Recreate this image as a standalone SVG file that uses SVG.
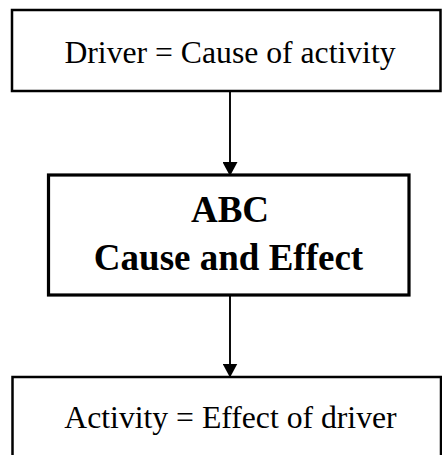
<svg xmlns="http://www.w3.org/2000/svg" width="442" height="455" viewBox="0 0 442 455">
  <style>
    .box { fill: #ffffff; stroke: #000000; }
    .thin { stroke-width: 2.5; }
    .thick { stroke-width: 3.2; }
    .label { font-family: "Liberation Serif", "Times New Roman", serif; fill: #000000; text-anchor: middle; }
    .plain { font-size: 31.7px; }
    .bold { font-size: 37px; font-weight: bold; }
    .link { stroke: #000000; stroke-width: 1.9; fill: none; }
  </style>
  <defs>
    <marker id="arrow" viewBox="0 0 14 15" refX="14" refY="7.5" markerWidth="14" markerHeight="15" markerUnits="userSpaceOnUse" orient="auto">
      <path d="M0,0 L14,7.5 L0,15 Z" fill="#000000"/>
    </marker>
  </defs>

  <rect width="442" height="455" fill="#ffffff"/>

  <!-- connectors -->
  <g id="connectors">
    <line class="link" x1="230" y1="92" x2="230" y2="176" marker-end="url(#arrow)"/>
    <line class="link" x1="230" y1="296" x2="230" y2="377.5" marker-end="url(#arrow)"/>
  </g>

  <g id="driver">
    <rect class="box thin" x="12" y="10" width="428.5" height="81"/>
    <text class="label plain" x="230" y="63">Driver = Cause of activity</text>
  </g>

  <g id="abc">
    <rect class="box thick" x="48.5" y="175" width="360.5" height="120"/>
    <text class="label bold" x="230" y="222">ABC</text>
    <text class="label bold" x="228.5" y="270">Cause and Effect</text>
  </g>

  <g id="activity">
    <rect class="box thin" x="12.5" y="377" width="428.5" height="100"/>
    <text class="label plain" x="230.5" y="428">Activity = Effect of driver</text>
  </g>
</svg>
